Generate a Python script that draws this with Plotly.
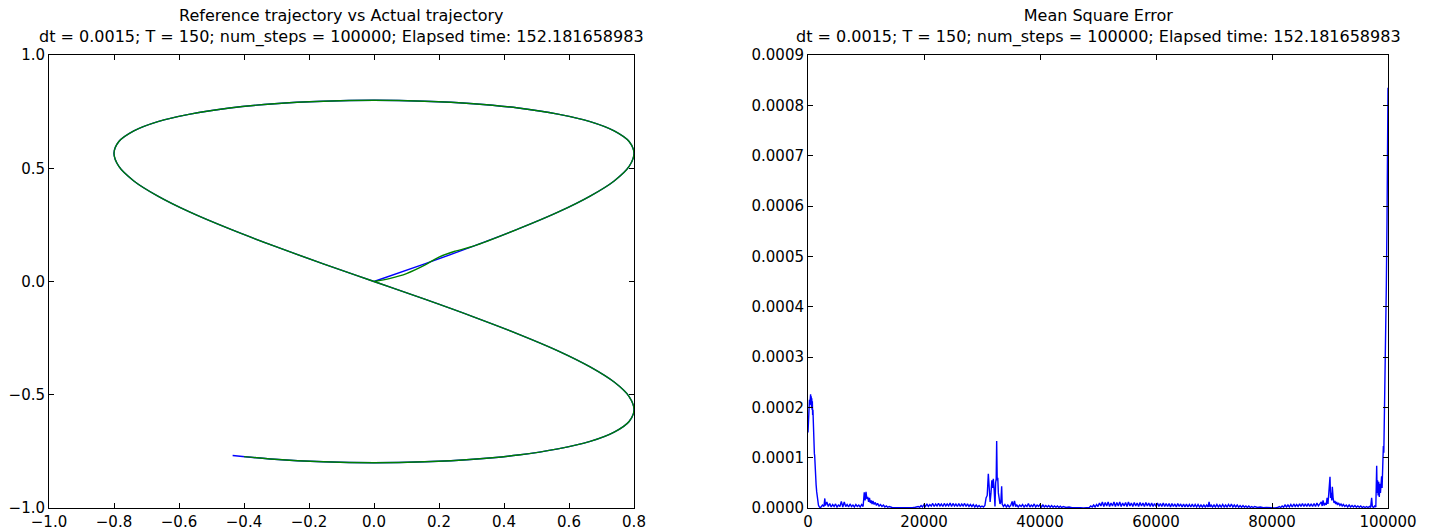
import plotly.graph_objects as go

# ---------------- data ----------------
# Left panel: reference (blue) and actual (green) trajectories
ref_x = [0, 0.156, 0.306, 0.444, 0.566, 0.665, 0.739, 0.785, 0.8, 0.785, 0.739, 0.665, 0.566, 0.444, 0.306, 0.156, 0,
         -0.156, -0.306, -0.444, -0.566, -0.665, -0.739, -0.785, -0.8, -0.785, -0.739, -0.665, -0.566, -0.444, -0.306, -0.156, 0,
         0.156, 0.306, 0.444, 0.566, 0.665, 0.739, 0.785, 0.8, 0.785, 0.739, 0.665, 0.566, 0.444, 0.306, 0.156, 0,
         -0.156, -0.306, -0.435]
ref_y = [0, 0.078, 0.156, 0.232, 0.306, 0.377, 0.444, 0.508, 0.566, 0.618, 0.665, 0.706, 0.739, 0.766, 0.785, 0.796, 0.8,
         0.796, 0.785, 0.766, 0.739, 0.706, 0.665, 0.618, 0.566, 0.508, 0.444, 0.377, 0.306, 0.232, 0.156, 0.078, 0,
         -0.078, -0.156, -0.232, -0.306, -0.377, -0.444, -0.508, -0.566, -0.618, -0.665, -0.706, -0.739, -0.766, -0.785, -0.796, -0.8,
         -0.796, -0.785, -0.768]

act_x = [0, 0.05, 0.1, 0.156, 0.2, 0.25, 0.306, 0.444, 0.566, 0.665, 0.739, 0.785, 0.8, 0.785, 0.739, 0.665, 0.566, 0.444, 0.306, 0.156, 0,
         -0.156, -0.306, -0.444, -0.566, -0.665, -0.739, -0.785, -0.8, -0.785, -0.739, -0.665, -0.566, -0.444, -0.306, -0.156, 0,
         0.156, 0.306, 0.444, 0.566, 0.665, 0.739, 0.785, 0.8, 0.785, 0.739, 0.665, 0.566, 0.444, 0.306, 0.156, 0,
         -0.156, -0.306, -0.40]
act_y = [0, 0.014, 0.035, 0.072, 0.108, 0.134, 0.156, 0.232, 0.306, 0.377, 0.444, 0.508, 0.566, 0.618, 0.665, 0.706, 0.739, 0.766, 0.785, 0.796, 0.8,
         0.796, 0.785, 0.766, 0.739, 0.706, 0.665, 0.618, 0.566, 0.508, 0.444, 0.377, 0.306, 0.232, 0.156, 0.078, 0,
         -0.078, -0.156, -0.232, -0.306, -0.377, -0.444, -0.508, -0.566, -0.618, -0.665, -0.706, -0.739, -0.766, -0.785, -0.796, -0.8,
         -0.796, -0.785, -0.773]

# Right panel: mean square error (values in units of 1e-6); each line of steps matches the same line of values
mse_steps = [
    0, 50, 100, 150, 200, 250, 300, 350, 400, 450, 500, 550, 600, 650, 700, 750, 800, 850, 900, 950,
    1000, 1050, 1100, 1150, 1200, 1300, 1400, 1500, 1600, 1700, 1800, 1900, 2000, 2100,
    2250, 2500, 2750, 2900, 3000, 3250, 3500, 3750, 4000, 4250, 4500, 4750, 5000, 5250, 5500, 5750,
    6000, 6250, 6500, 6750, 7000, 7250, 7500, 7750, 8000, 8250, 8500, 8750, 9000, 9250, 9500,
    9700, 9850, 10000, 10150, 10300, 10450, 10600, 10750, 10900, 11050, 11200, 11400, 11600, 11800, 12000,
    12250, 12500, 12750, 13000, 13250, 13500, 13750, 14000, 14500, 15000, 15500, 16000, 17000, 18000,
    18500, 19000, 19250, 19500, 19750,
    20000, 20250, 20500, 20750, 21000, 21250, 21500, 21750, 22000, 22250, 22500, 22750, 23000, 23250,
    23500, 23750, 24000, 24250, 24500, 24750, 25000, 25250, 25500, 25750, 26000, 26250, 26500, 26750,
    27000, 27250, 27500, 27750, 28000, 28250, 28500, 28750, 29000, 29250, 29500, 29750, 30000, 30250, 30500,
    30700, 30900, 31090, 31250, 31400, 31550, 31700, 31850, 31950, 32100, 32240, 32350, 32450, 32530,
    32620, 32720, 32820, 32950, 33100, 33250, 33390, 33480,
    33700, 33950, 34200, 34450, 34700, 34950, 35200, 35350, 35600, 35800, 36000, 36250, 36500, 36750,
    37000, 37250, 37500, 37750, 38000, 38250, 38500, 38750, 39000, 39250, 39500, 39750, 40000, 40250,
    40500, 40750, 41000, 41250, 41500, 41750, 42000, 42250, 42500, 42750, 43000, 43250, 43500, 43750,
    44000, 44500, 45000, 45500, 46000, 46500, 47000, 47500, 48000, 48250, 48500, 48750, 49000, 49250, 49500, 49750,
    50000, 50250, 50500, 50750, 51000, 51250, 51500, 51750, 52000, 52250, 52500, 52750, 53000, 53250,
    53500, 53750, 54000, 54250, 54500, 54750, 55000, 55250, 55500, 55750, 56000, 56250, 56500, 56750,
    57000, 57250, 57500, 57750, 58000, 58250, 58500, 58750, 59000, 59250, 59500, 59750, 60000, 60250,
    60500, 60750, 61000, 61250, 61500, 61750, 62000, 62250, 62500, 62750, 63000, 63250, 63500, 63750,
    64000, 64250, 64500, 64750, 65000, 65250, 65500, 65750, 66000, 66250, 66500, 66750, 67000, 67250,
    67500, 67750, 68000, 68250, 68500, 68750, 69000, 69150, 69300, 69500, 69750,
    70000, 70250, 70500, 70750, 71000, 71250, 71500, 71750, 72000, 72250, 72500, 72750, 73000, 73250,
    73500, 73750, 74000, 74250, 74500, 74750, 75000, 75250, 75500, 75750, 76000, 76250, 76500, 76750,
    77000, 77500, 78000, 78500, 79000, 79500, 80000, 80500, 81000,
    81250, 81500, 81750, 82000, 82250, 82500, 82750, 83000, 83250, 83500, 83750, 84000, 84250, 84500,
    84750, 85000, 85250, 85500, 85750, 86000, 86250, 86500, 86750, 87000, 87250, 87500, 87750, 88000,
    88250, 88500, 88650, 88800, 89000, 89200, 89350, 89500, 89650, 89800, 90000, 90100, 90200, 90300,
    90400, 90550, 90700, 90850, 91000, 91150, 91300, 91500, 91700, 91900, 92100, 92300, 92550, 92800,
    93050, 93300, 93550, 93800, 94050, 94300, 94550, 94800, 95050, 95300, 95550, 95800, 96050, 96300,
    96550, 96800, 97000, 97180, 97300, 97500, 97700, 97900,
    98050, 98120, 98200, 98300, 98400, 98500, 98600, 98700, 98800, 98900, 98980, 99050, 99120, 99200,
    99280, 99370, 99450, 99500, 99600, 99710, 99830, 99920, 100000,
]
mse_e6 = [
    150, 175, 165, 200, 190, 215, 205, 224, 210, 226, 205, 222, 200, 218, 195, 212, 185, 195, 165, 160,
    135, 130, 108, 104, 85, 65, 46, 32, 21, 12, 6, 3, 1, 0.5,
    2, 6, 3, 19, 5, 12, 3, 9, 2, 7, 3, 8, 2, 6, 3, 13,
    2, 12, 3, 7, 2, 8, 3, 6, 2, 7, 3, 6, 2, 7, 3,
    31, 15, 32, 18, 22, 12, 20, 10, 15, 8, 14, 7, 11, 5, 9,
    4, 7, 3, 6, 2, 4, 1.5, 3, 1, 1.5, 0.5, 0.8, 0.3, 0.8,
    1.5, 3, 1.5, 5, 2,
    7, 3, 8, 3, 7, 4, 9, 3, 8, 4, 9, 4, 8, 3,
    9, 4, 8, 4, 10, 3, 9, 4, 8, 3, 9, 3, 8, 4,
    9, 3, 8, 3, 7, 3, 7, 2, 6, 2, 5, 2, 4, 2, 5,
    20, 25, 68, 20, 12, 30, 55, 40, 58, 35, 3, 50, 58, 133,
    55, 60, 30, 20, 8, 12, 43, 8,
    3, 7, 2, 6, 2, 5, 13, 3, 14, 3, 6, 2, 6, 3,
    7, 2, 6, 3, 9, 2, 6, 3, 8, 2, 6, 3, 7, 2,
    6, 2, 5, 2, 5, 1.5, 5, 1.5, 4, 1.5, 4, 1, 3.5, 1,
    3, 1, 2, 0.5, 1, 0.3, 0.5, 0.3, 1, 2, 1, 4, 2, 6, 2, 7,
    3, 10, 4, 12, 3, 11, 4, 12, 3, 10, 4, 12, 3, 11,
    4, 12, 3, 10, 4, 11, 3, 12, 4, 10, 3, 11, 4, 10,
    3, 11, 4, 10, 3, 11, 4, 10, 3, 10, 3, 9, 3, 10,
    3, 9, 3, 10, 3, 9, 3, 9, 2, 9, 3, 8, 2, 9,
    3, 8, 2, 8, 2, 8, 2, 7, 2, 8, 2, 7, 2, 7,
    2, 6, 2, 6, 2, 6, 2, 12, 2, 6, 2,
    6, 2, 7, 2, 6, 2, 7, 2, 6, 2, 7, 2, 8, 2,
    6, 2, 6, 1.5, 5, 1.5, 5, 1.5, 4, 1, 4, 1, 3, 1,
    3, 1, 2, 0.5, 1, 0.3, 0.5, 0.3, 1,
    3, 1, 4, 1.5, 6, 2, 6, 2, 7, 2, 8, 3, 7, 3,
    8, 3, 9, 3, 8, 3, 9, 3, 8, 3, 9, 3, 10, 4,
    9, 12, 4, 15, 5, 10, 6, 20, 8, 25, 62, 20, 30, 15,
    42, 18, 10, 14, 8, 12, 6, 10, 5, 8, 4, 7, 3, 6,
    2, 6, 2, 5, 2, 5, 1.5, 4, 1.5, 4, 1, 3, 1, 3,
    1, 3, 1, 20, 3, 1, 4, 2,
    84, 30, 55, 25, 52, 22, 48, 30, 55, 63, 40, 88, 70, 123,
    110, 176, 200, 250, 310, 440, 570, 700, 835,
]
assert len(mse_steps) == len(mse_e6)
mse = [v * 1e-6 for v in mse_e6]

title_left = "Reference trajectory vs Actual trajectory"
title_right = "Mean Square Error"
subtitle = "dt = 0.0015; T = 150; num_steps = 100000; Elapsed time: 152.181658983"

# ---------------- figure ----------------
BLUE = "#0000ff"
GREEN = "#008000"
FONT = "DejaVu Sans"

fig = go.Figure()
fig.add_trace(go.Scatter(x=ref_x, y=ref_y, mode="lines", line=dict(color=BLUE, width=1.4, shape="spline"),
                         xaxis="x", yaxis="y", showlegend=False))
fig.add_trace(go.Scatter(x=act_x, y=act_y, mode="lines", line=dict(color=GREEN, width=1.4, shape="spline"),
                         xaxis="x", yaxis="y", showlegend=False))
fig.add_trace(go.Scatter(x=mse_steps, y=mse, mode="lines", line=dict(color=BLUE, width=1.4),
                         xaxis="x2", yaxis="y2", showlegend=False))

W, H = 1433, 531
L, R, T, B = 49, 45, 55, 23
plot_w = W - L - R
left_dom = [0, (634 - L) / plot_w]
right_dom = [(808 - L) / plot_w, 1]

axis_common = dict(
    showline=True, linecolor="black", linewidth=1, mirror="ticks",
    ticks="inside", ticklen=5, tickwidth=1, tickcolor="black",
    showgrid=False, zeroline=False, tickfont=dict(family=FONT, size=15, color="black"),
)

fig.update_layout(
    template="none",
    width=W, height=H,
    margin=dict(l=L, r=R, t=T, b=B, pad=0),
    paper_bgcolor="white", plot_bgcolor="white",
    font=dict(family=FONT, size=15, color="black"),
    xaxis=dict(domain=left_dom, range=[-1, 0.8], tickvals=[-1, -0.8, -0.6, -0.4, -0.2, 0, 0.2, 0.4, 0.6, 0.8],
               tickformat=".1f", anchor="y", **axis_common),
    yaxis=dict(domain=[0, 1], range=[-1, 1], tickvals=[-1, -0.5, 0, 0.5, 1], tickformat=".1f",
               anchor="x", **axis_common),
    xaxis2=dict(domain=right_dom, range=[0, 100000], tickvals=[0, 20000, 40000, 60000, 80000, 100000],
                tickformat="d", anchor="y2", **axis_common),
    yaxis2=dict(domain=[0, 1], range=[0, 0.0009], dtick=0.0001, tick0=0, tickformat=".4f",
                anchor="x2", **axis_common),
)

for xref, t in (("x domain", title_left), ("x2 domain", title_right)):
    fig.add_annotation(x=0.5, xref=xref, y=1, yref="paper", yanchor="bottom", xanchor="center",
                       yshift=6, showarrow=False, text=t + "<br>" + subtitle,
                       font=dict(family=FONT, size=16, color="black"))

fig.write_html("out.html")
